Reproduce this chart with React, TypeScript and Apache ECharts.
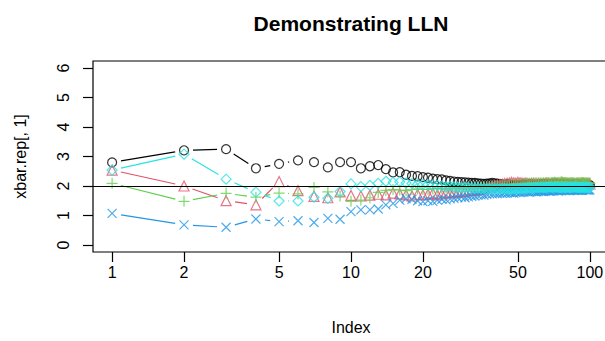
import React, { useEffect, useRef } from "react";
import * as echarts from "echarts";

const indexValues: number[] = Array.from({ length: 100 }, (_, k) => k + 1);

const blackSeries: number[] = [
  2.80, 3.21, 3.25, 2.60, 2.75, 2.87, 2.81, 2.63, 2.81, 2.81,
  2.60, 2.67, 2.71, 2.57, 2.46, 2.47, 2.38, 2.34, 2.33, 2.30,
  2.28, 2.25, 2.23, 2.22, 2.19, 2.17, 2.15, 2.14, 2.13, 2.12,
  2.11, 2.10, 2.10, 2.09, 2.08, 2.07, 2.08, 2.09, 2.10, 2.09,
  2.08, 2.06, 2.05, 2.04, 2.06, 2.05, 2.03, 2.02, 2.04, 2.03,
  2.02, 2.04, 2.05, 2.03, 2.04, 2.06, 2.05, 2.04, 2.03, 2.05,
  2.04, 2.06, 2.05, 2.07, 2.06, 2.05, 2.04, 2.06, 2.05, 2.07,
  2.06, 2.08, 2.07, 2.06, 2.05, 2.07, 2.06, 2.05, 2.04, 2.05,
  2.06, 2.05, 2.04, 2.06, 2.05, 2.04, 2.03, 2.04, 2.05, 2.04,
  2.03, 2.05, 2.04, 2.03, 2.02, 2.03, 2.04, 2.03, 2.02, 2.03,
];

const redSeries: number[] = [
  2.54, 2.00, 1.50, 1.36, 2.15, 1.84, 1.65, 1.60, 1.80, 1.68,
  1.66, 1.69, 1.72, 1.70, 1.76, 1.73, 1.70, 1.66, 1.72, 1.70,
  1.72, 1.75, 1.70, 1.73, 1.78, 1.76, 1.80, 1.78, 1.82, 1.80,
  1.84, 1.86, 1.85, 1.88, 1.90, 1.92, 1.95, 1.97, 2.00, 2.02,
  2.03, 2.05, 2.06, 2.08, 2.09, 2.10, 2.12, 2.11, 2.10, 2.12,
  2.11, 2.10, 2.09, 2.10, 2.08, 2.07, 2.08, 2.09, 2.07, 2.06,
  2.07, 2.08, 2.06, 2.07, 2.08, 2.09, 2.08, 2.07, 2.08, 2.09,
  2.10, 2.09, 2.08, 2.07, 2.08, 2.09, 2.10, 2.09, 2.08, 2.07,
  2.08, 2.07, 2.06, 2.07, 2.08, 2.07, 2.06, 2.07, 2.08, 2.07,
  2.06, 2.07, 2.08, 2.09, 2.08, 2.07, 2.06, 2.07, 2.08, 2.07,
];

const greenSeries: number[] = [
  2.09, 1.48, 1.75, 1.62, 1.76, 1.73, 1.95, 1.80, 1.66, 1.48,
  1.52, 1.60, 1.78, 1.85, 1.88, 1.86, 1.84, 1.88, 1.90, 1.88,
  1.88, 1.90, 1.92, 1.91, 1.93, 1.92, 1.94, 1.93, 1.92, 1.94,
  1.95, 1.93, 1.94, 1.96, 1.95, 1.97, 1.98, 1.97, 1.99, 2.00,
  2.01, 2.00, 2.02, 2.03, 2.02, 2.04, 2.05, 2.04, 2.06, 2.07,
  2.06, 2.07, 2.08, 2.09, 2.08, 2.09, 2.10, 2.09, 2.10, 2.11,
  2.10, 2.09, 2.10, 2.11, 2.10, 2.12, 2.11, 2.10, 2.11, 2.12,
  2.13, 2.12, 2.11, 2.12, 2.13, 2.14, 2.13, 2.12, 2.11, 2.12,
  2.11, 2.10, 2.11, 2.12, 2.11, 2.10, 2.09, 2.10, 2.11, 2.10,
  2.11, 2.12, 2.11, 2.10, 2.09, 2.10, 2.11, 2.10, 2.09, 2.10,
];

const blueSeries: number[] = [
  1.07, 0.68, 0.60, 0.88, 0.79, 0.82, 0.76, 0.90, 0.87, 1.13,
  1.19, 1.19, 1.22, 1.36, 1.41, 1.52, 1.57, 1.55, 1.50, 1.47,
  1.50, 1.48, 1.52, 1.55, 1.53, 1.56, 1.58, 1.60, 1.62, 1.60,
  1.63, 1.65, 1.66, 1.68, 1.70, 1.69, 1.72, 1.74, 1.73, 1.75,
  1.74, 1.76, 1.75, 1.77, 1.76, 1.78, 1.77, 1.76, 1.78, 1.79,
  1.78, 1.80, 1.79, 1.81, 1.80, 1.79, 1.81, 1.82, 1.81, 1.80,
  1.82, 1.83, 1.82, 1.81, 1.83, 1.84, 1.83, 1.82, 1.84, 1.83,
  1.84, 1.85, 1.84, 1.83, 1.85, 1.84, 1.86, 1.85, 1.84, 1.86,
  1.85, 1.84, 1.86, 1.87, 1.86, 1.85, 1.87, 1.86, 1.85, 1.86,
  1.87, 1.86, 1.85, 1.87, 1.88, 1.87, 1.86, 1.87, 1.86, 1.87,
];

const cyanSeries: number[] = [
  2.54, 3.08, 2.23, 1.79, 1.49, 1.49, 1.62, 1.58, 1.81, 2.07,
  1.98, 2.02, 2.09, 2.16, 2.12, 2.14, 2.10, 2.08, 2.06, 2.05,
  2.05, 2.03, 2.02, 2.00, 1.98, 1.99, 1.97, 1.96, 1.95, 1.94,
  1.95, 1.93, 1.92, 1.93, 1.91, 1.92, 1.90, 1.91, 1.92, 1.90,
  1.91, 1.90, 1.92, 1.91, 1.90, 1.89, 1.90, 1.91, 1.90, 1.92,
  1.91, 1.92, 1.93, 1.92, 1.94, 1.93, 1.92, 1.94, 1.95, 1.94,
  1.95, 1.96, 1.95, 1.94, 1.96, 1.95, 1.96, 1.97, 1.96, 1.95,
  1.96, 1.97, 1.96, 1.95, 1.94, 1.95, 1.96, 1.95, 1.94, 1.95,
  1.96, 1.95, 1.94, 1.95, 1.96, 1.97, 1.96, 1.95, 1.96, 1.95,
  1.94, 1.95, 1.96, 1.95, 1.94, 1.95, 1.96, 1.95, 1.94, 1.95,
];

const xTickLabels: number[] = [1, 2, 5, 10, 20, 50, 100];
const yTickLabels: number[] = [0, 1, 2, 3, 4, 5, 6];
const referenceLevel = 2;

const columns = [
  { values: blackSeries, color: "#000000", symbol: "circle", size: 9 },
  { values: redSeries, color: "#DF536B", symbol: "triangle", size: 10 },
  { values: greenSeries, color: "#61D04F", symbol: "path://M0,5L10,5M5,0L5,10", size: 11 },
  { values: blueSeries, color: "#2297E6", symbol: "path://M0,0L10,10M10,0L0,10", size: 9 },
  { values: cyanSeries, color: "#28E2E5", symbol: "diamond", size: 10 },
];

const FONT = "Liberation Sans, Arial, Helvetica, sans-serif";

export default function App() {
  const ref = useRef<HTMLDivElement>(null);
  useEffect(() => {
    document.body.style.margin = "0";
    if (!ref.current) return;
    const chart = echarts.init(ref.current, null, { renderer: "svg" });
    const logX = indexValues.map((v) => Math.log10(v));
    const GAP = 9;

    const series: any[] = [
      {
        type: "line",
        data: [],
        silent: true,
        markLine: {
          silent: true,
          symbol: "none",
          label: { show: false },
          lineStyle: { color: "#000", width: 1.2, type: "solid" },
          data: [{ yAxis: referenceLevel }],
        },
      },
    ];

    columns.forEach((col) => {
      const pairs = col.values.slice(0, -1).map((v, k) => [logX[k], v, logX[k + 1], col.values[k + 1]]);
      series.push({
        type: "custom",
        silent: true,
        dimensions: ["x0", "y0", "x1", "y1"],
        encode: { x: [0, 2], y: [1, 3] },
        data: pairs,
        renderItem: (params: any, api: any) => {
          const p0 = api.coord([api.value(0), api.value(1)]);
          const p1 = api.coord([api.value(2), api.value(3)]);
          const dx = p1[0] - p0[0];
          const dy = p1[1] - p0[1];
          const d = Math.sqrt(dx * dx + dy * dy);
          if (d <= 2 * GAP) return { type: "group", children: [] };
          const ux = dx / d;
          const uy = dy / d;
          return {
            type: "line",
            shape: {
              x1: p0[0] + ux * GAP,
              y1: p0[1] + uy * GAP,
              x2: p1[0] - ux * GAP,
              y2: p1[1] - uy * GAP,
            },
            style: { stroke: col.color, lineWidth: 1.2 },
          };
        },
      });
      series.push({
        type: "scatter",
        silent: true,
        symbol: col.symbol,
        symbolSize: col.size,
        data: col.values.map((v, k) => [logX[k], v]),
        itemStyle: { color: "rgba(0,0,0,0)", borderColor: col.color, borderWidth: 1.2 },
      });
    });

    const xTicks = xTickLabels.map((v) => Math.log10(v));

    chart.setOption({
      animation: false,
      backgroundColor: "#ffffff",
      title: {
        text: "Demonstrating LLN",
        left: 346,
        top: 8,
        textAlign: "center",
        textStyle: { fontFamily: FONT, fontSize: 21, fontWeight: "bold", color: "#000" },
      },
      grid: {
        left: 93,
        top: 61,
        width: 516,
        height: 191,
        outerBoundsMode: "none",
        containLabel: false,
        show: true,
        borderColor: "#000",
        borderWidth: 1.2,
        backgroundColor: "transparent",
      },
      xAxis: {
        type: "value",
        min: Math.log10(1) - 0.08,
        max: Math.log10(100) + 0.08,
        name: "Index",
        nameLocation: "middle",
        nameGap: 67,
        nameTextStyle: { fontFamily: FONT, fontSize: 16, color: "#000" },
        axisLine: { show: false, onZero: false },
        splitLine: { show: false },
        axisTick: {
          show: true,
          length: 10,
          customValues: xTicks,
          lineStyle: { color: "#000", width: 1.2 },
        },
        axisLabel: {
          customValues: xTicks,
          margin: 12,
          fontFamily: FONT,
          fontSize: 16,
          color: "#000",
          formatter: (v: number) => String(Math.round(Math.pow(10, v))),
        },
      },
      yAxis: {
        type: "value",
        min: -0.24,
        max: 6.24,
        name: "xbar.rep[, 1]",
        nameLocation: "middle",
        nameGap: 65,
        nameRotate: 90,
        nameTextStyle: { fontFamily: FONT, fontSize: 16, color: "#000" },
        axisLine: { show: false, onZero: false },
        splitLine: { show: false },
        axisTick: {
          show: true,
          length: 10,
          customValues: yTickLabels,
          lineStyle: { color: "#000", width: 1.2 },
        },
        axisLabel: {
          customValues: yTickLabels,
          rotate: 90,
          margin: 22,
          fontFamily: FONT,
          fontSize: 16,
          color: "#000",
        },
      },
      series,
    });
    return () => chart.dispose();
  }, []);
  return (
    <div
      ref={ref}
      style={{ width: 605, height: 341, position: "absolute", left: 0, top: 0 }}
    />
  );
}
